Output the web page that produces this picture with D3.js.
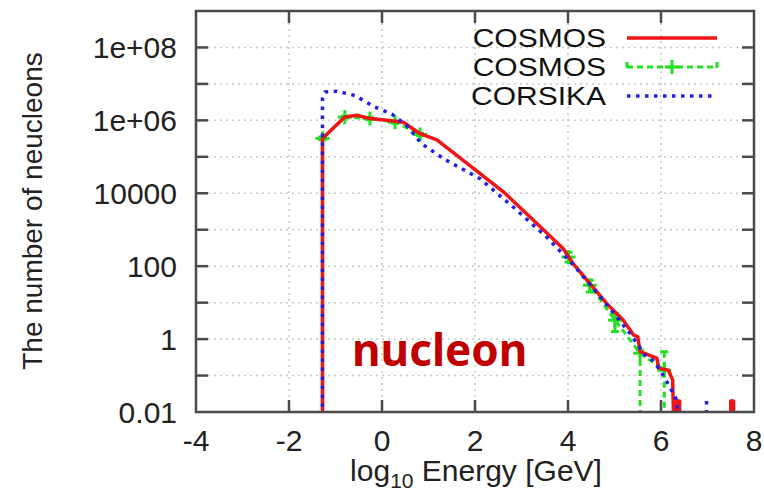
<!DOCTYPE html>
<html>
<head>
<meta charset="utf-8">
<script src="https://cdn.jsdelivr.net/npm/d3@7"></script>
<style>
  body { margin: 0; background: #fff; }
  svg { display: block; font-family: "Liberation Sans", Arial, sans-serif; }
</style>
</head>
<body>
<svg id="chart" width="764" height="494"></svg>
<script>
// log10 energy [GeV] and counts; 0 = below the axis, null = gap
const cosmosLogE = [-1.28, -1.28, -0.80, -0.54, -0.26, 0.10, 0.46, 0.82, 1.18, 1.85, 2.61, 3.33, 3.90, 4.11, 4.83, 5.19, 5.41, 5.50, 5.55, 5.91, 5.95, 6.16, 6.25, 6.27,
  null, 6.34, 6.34, 6.40, 6.40, null, 7.50, 7.50, 7.56, 7.56];
const cosmosCount = [0, 3.2e5, 1.23e6, 1.38e6, 1.12e6, 1.0e6, 8.9e5, 4.3e5, 2.9e5, 6.3e4, 1.1e4, 1480, 300, 117, 9.5, 3.3, 1.3, 1.15, 0.45, 0.30, 0.16, 0.14, 0.076, 0,
  null, 0, 0.02, 0.02, 0, null, 0, 0.02, 0.02, 0];

const cosmosErrLogE = [-1.28, -0.80, -0.26, 0.28, 0.82, null, 4.01, 4.47, 5.01, 5.55, 6.07];
const cosmosErrCount = [3.2e5, 1.23e6, 1.12e6, 8.9e5, 4.1e5, null, 178, 30, 3.3, 0.41, 0.14];
const cosmosErrLow = [2.9e5, 1.15e6, 1.05e6, 8.3e5, 3.8e5, null, 130, 19.5, 1.6, 0, 0];
const cosmosErrHigh = [3.5e5, 1.3e6, 1.2e6, 9.5e5, 4.4e5, null, 240, 41, 5.1, 0.5, 0.45];

const corsikaLogE = [-1.28, -1.28, -1.22, -0.97, -0.58, -0.15, 0.21, 0.53, 0.85, 1.35, 2.11, 2.82, 3.54, 4.11, 4.83, 5.33, 5.66, 5.83, 5.98, 6.19, 6.34, 6.36,
  null, 6.98, 6.98];
const corsikaCount = [0, 3.9e6, 6.0e6, 6.3e6, 4.8e6, 2.3e6, 1.5e6, 7.2e5, 2.3e5, 8.5e4, 2.5e4, 4200, 630, 110, 9.0, 1.45, 0.36, 0.26, 0.14, 0.049, 0.021, 0,
  null, 0.02, 0];

const xTicks = [-4, -2, 0, 2, 4, 6, 8];
const yTicks = [1e-2, 1, 100, 1e4, 1e6, 1e8];
const yLabels = ["0.01", "1", "100", "10000", "1e+06", "1e+08"];
const legendNames = ["COSMOS", "COSMOS", "CORSIKA"];

const RED = "#f01414", GREEN = "#22e022", BLUE = "#2020e8";

const pLeft = 196, pRight = 754, pTop = 11, pBottom = 412;

const x = d3.scaleLinear().domain([-4, 8]).range([pLeft, pRight]);
const y = d3.scaleLog().domain([1e-2, 1e9]).range([pBottom, pTop]);
const yv = v => v > 0 ? y(v) : pBottom + 4;

const svg = d3.select("#chart");

svg.append("defs").append("clipPath").attr("id", "plot")
  .append("rect").attr("x", pLeft).attr("y", pTop).attr("width", pRight - pLeft).attr("height", pBottom - pTop);

// grid
const grid = svg.append("g").attr("stroke", "#c8c8c8").attr("stroke-width", 1.5).attr("stroke-dasharray", "2 4");
grid.selectAll(".gx").data([-2, 0, 2, 4, 6]).join("line")
  .attr("x1", d => x(d)).attr("x2", d => x(d)).attr("y1", pTop).attr("y2", pBottom);
grid.selectAll(".gy").data(d3.range(-1, 9).map(e => Math.pow(10, e))).join("line")
  .attr("x1", pLeft).attr("x2", pRight).attr("y1", d => y(d)).attr("y2", d => y(d));

const plot = svg.append("g").attr("clip-path", "url(#plot)");

const toPts = (xs, ys) => xs.map((d, i) => d == null ? null : [d, ys[i]]);
const line = d3.line().defined(d => d != null).x(d => x(d[0])).y(d => yv(d[1]));

// COSMOS with error bars (green, drawn first)
const errPts = cosmosErrLogE.map((d, i) => d == null ? null : { e: d, n: cosmosErrCount[i], lo: cosmosErrLow[i], hi: cosmosErrHigh[i] });
plot.append("path")
  .attr("d", line(errPts.map(d => d && [d.e, d.n])))
  .attr("fill", "none").attr("stroke", GREEN).attr("stroke-width", 3).attr("stroke-dasharray", "6 4");
const eg = plot.append("g").attr("stroke", GREEN).attr("stroke-width", 3);
const valid = errPts.filter(d => d);
eg.selectAll(".bar").data(valid).join("line")
  .attr("x1", d => x(d.e)).attr("x2", d => x(d.e))
  .attr("y1", d => yv(d.hi)).attr("y2", d => yv(d.lo))
  .attr("stroke-dasharray", d => d.lo > 0 ? null : "6 4");
eg.selectAll(".capH").data(valid).join("line")
  .attr("x1", d => x(d.e) - 4).attr("x2", d => x(d.e) + 4)
  .attr("y1", d => yv(d.hi)).attr("y2", d => yv(d.hi));
eg.selectAll(".capL").data(valid.filter(d => d.lo > 0)).join("line")
  .attr("x1", d => x(d.e) - 4).attr("x2", d => x(d.e) + 4)
  .attr("y1", d => yv(d.lo)).attr("y2", d => yv(d.lo));
eg.selectAll(".mh").data(valid).join("line")
  .attr("x1", d => x(d.e) - 7).attr("x2", d => x(d.e) + 7)
  .attr("y1", d => yv(d.n)).attr("y2", d => yv(d.n));
eg.selectAll(".mv").data(valid).join("line")
  .attr("x1", d => x(d.e)).attr("x2", d => x(d.e))
  .attr("y1", d => yv(d.n) - 7).attr("y2", d => yv(d.n) + 7);

// COSMOS (red)
plot.append("path")
  .attr("d", line(toPts(cosmosLogE, cosmosCount)))
  .attr("fill", "none").attr("stroke", RED).attr("stroke-width", 3.5).attr("stroke-linejoin", "round");

// CORSIKA (blue dotted)
plot.append("path")
  .attr("d", line(toPts(corsikaLogE, corsikaCount)))
  .attr("fill", "none").attr("stroke", BLUE).attr("stroke-width", 3.5).attr("stroke-dasharray", "3.5 5.5");

// border and ticks
const frame = svg.append("g").attr("stroke", "#4a4a4a").attr("stroke-width", 2.5);
frame.append("rect").attr("x", pLeft).attr("y", pTop).attr("width", pRight - pLeft).attr("height", pBottom - pTop).attr("fill", "none");
const tk = 12;
frame.selectAll(".tb").data([-2, 0, 2, 4, 6]).join("line")
  .attr("x1", d => x(d)).attr("x2", d => x(d)).attr("y1", pBottom).attr("y2", pBottom - tk);
frame.selectAll(".tt").data([-2, 0, 2, 4, 6]).join("line")
  .attr("x1", d => x(d)).attr("x2", d => x(d)).attr("y1", pTop).attr("y2", pTop + tk);
const decades = d3.range(-1, 9).map(e => Math.pow(10, e));
frame.selectAll(".tl").data(decades).join("line")
  .attr("x1", pLeft).attr("x2", pLeft + tk).attr("y1", d => y(d)).attr("y2", d => y(d));
frame.selectAll(".tr").data(decades).join("line")
  .attr("x1", pRight).attr("x2", pRight - tk).attr("y1", d => y(d)).attr("y2", d => y(d));

// tick labels
svg.append("g").attr("font-size", 30).attr("fill", "#222").attr("text-anchor", "end")
  .selectAll("text").data(yTicks).join("text")
  .attr("x", 177).attr("y", d => y(d)).attr("dy", "0.36em")
  .text((d, i) => yLabels[i]);
svg.append("g").attr("font-size", 30).attr("fill", "#222").attr("text-anchor", "middle")
  .selectAll("text").data(xTicks).join("text")
  .attr("x", d => x(d)).attr("y", 451)
  .text(d => d);

// axis titles
svg.append("text")
  .attr("transform", "translate(42,211) rotate(-90)")
  .attr("text-anchor", "middle").attr("font-size", 28).attr("fill", "#222")
  .text("The number of neucleons");
const xt = svg.append("text")
  .attr("x", 476).attr("y", 481).attr("text-anchor", "middle").attr("font-size", 30).attr("fill", "#222");
xt.append("tspan").text("log");
xt.append("tspan").attr("font-size", 21).attr("dy", 7).text("10");
xt.append("tspan").attr("dy", -7).text(" Energy [GeV]");

// legend
const lg = svg.append("g");
const rowY = [38, 67, 96];
lg.selectAll("text").data(legendNames).join("text")
  .attr("transform", (d, i) => `translate(606,${rowY[i]}) scale(1.2,1)`)
  .attr("dy", "0.36em")
  .attr("text-anchor", "end").attr("font-size", 25).attr("fill", "#111")
  .text(d => d);
lg.append("line").attr("x1", 627).attr("x2", 717).attr("y1", rowY[0]).attr("y2", rowY[0])
  .attr("stroke", RED).attr("stroke-width", 3.5);
const g2 = lg.append("g").attr("stroke", GREEN).attr("stroke-width", 3);
g2.append("line").attr("x1", 627).attr("x2", 717).attr("y1", rowY[1]).attr("y2", rowY[1]).attr("stroke-dasharray", "6 4");
g2.selectAll(".cap").data([627, 717]).join("line")
  .attr("x1", d => d).attr("x2", d => d).attr("y1", rowY[1] - 5).attr("y2", rowY[1] + 1);
g2.append("line").attr("x1", 665).attr("x2", 679).attr("y1", rowY[1]).attr("y2", rowY[1]);
g2.append("line").attr("x1", 672).attr("x2", 672).attr("y1", rowY[1] - 7).attr("y2", rowY[1] + 7);
lg.append("line").attr("x1", 627).attr("x2", 712).attr("y1", rowY[2]).attr("y2", rowY[2])
  .attr("stroke", BLUE).attr("stroke-width", 3.5).attr("stroke-dasharray", "3.5 5.5");

// annotation
svg.append("text")
  .attr("x", 352).attr("y", 366)
  .attr("font-family", "'Noto Sans', sans-serif").attr("font-weight", "bold")
  .attr("font-size", 44).attr("fill", "#c00000")
  .text("nucleon");
</script>
</body>
</html>
